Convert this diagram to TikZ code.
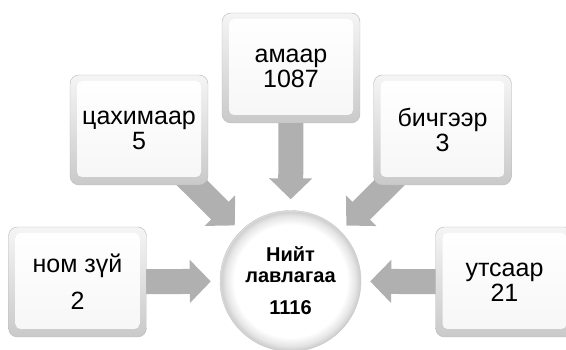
\documentclass[tikz,border=0pt]{standalone}
\usepackage{fontspec}
\setmainfont{Liberation Sans}
\usetikzlibrary{arrows.meta,backgrounds}

\pgfdeclareradialshading{ballrim}{\pgfpoint{0bp}{0bp}}{color(0bp)=(white); color(20bp)=(white); color(23bp)=(gray!20); color(24.6bp)=(gray!38); color(25bp)=(gray!25); color(50bp)=(gray!25)}

\tikzset{
  keybox/.style={rectangle, rounded corners=9pt, minimum width=138pt, minimum height=110pt,
    inner sep=0pt, draw=gray!55, top color=gray!8, bottom color=gray!42,
    path picture={\shade[top color=white, bottom color=gray!7, rounded corners=5pt]
      ([shift={(7pt,-6pt)}]path picture bounding box.north west) rectangle
      ([shift={(-7pt,8pt)}]path picture bounding box.south east);},
    font=\fontsize{25}{25}\selectfont, align=center},
  totalball/.style={circle, minimum size=141pt, inner sep=0pt, draw=gray!45,
    shading=ballrim, font=\fontsize{20}{21}\selectfont\bfseries, align=center},
  blockarrow/.style={line width=25pt, draw=gray!62, -{Triangle[length=21pt,width=42pt]}, shorten >=9pt}
}

\begin{document}
\begin{tikzpicture}[x=1pt,y=1pt]
    \useasboundingbox (0,0) rectangle (566,350);

    % хүрээнүүд
    \node[keybox] (amaar) at (291,282) {амаар\\1087};
    \node[keybox] (tsakh) at (139,220) {цахимаар\\5};
    \node[keybox] (bichg) at (442.5,220) {бичгээр\\3};
    \node[keybox] (nom) at (77.5,68) {ном зүй\\[12pt]2};
    \node[keybox] (uts) at (504.5,68) {утсаар\\21};

    % нийт
    \node[totalball] (total) at (290.5,69) {Нийт\\лавлагаа\\[11pt]1116};

    % сумнууд
    \begin{scope}[on background layer]
        \draw[blockarrow, shorten >=11pt] (amaar.center) -- (total);
        \draw[blockarrow, shorten >=8pt] (tsakh.center) -- (total);
        \draw[blockarrow, shorten >=8pt] (bichg.center) -- (total);
        \draw[blockarrow] (nom.center) -- (total);
        \draw[blockarrow] (uts.center) -- (total);
    \end{scope}
\end{tikzpicture}
\end{document}
